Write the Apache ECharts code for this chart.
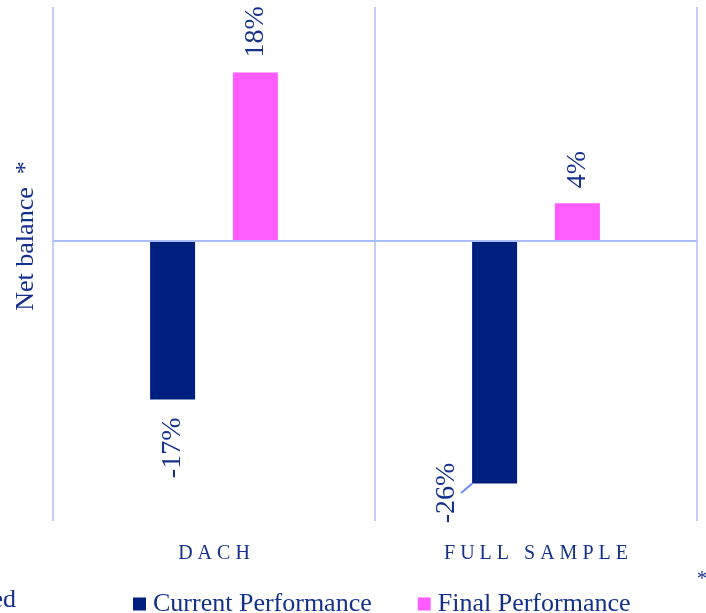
<!DOCTYPE html>
<html lang="en">
<head>
    <meta charset="UTF-8" />
    <title>Net balance</title>
    <script src="https://cdn.jsdelivr.net/npm/echarts@6/dist/echarts.min.js"></script>
    <style>
        html, body { margin: 0; padding: 0; background: #fff; }
    </style>
</head>
<body>
    <div id="main" style="width: 706px; height: 613px"></div>

    <script>
        // data (percent)
        var categories = ["D A C H", "F U L L   S A M P L E"];
        var currentPerf = [-17, -26];
        var finalPerf = [18, 4];
        var seriesNames = ["Current Performance", "Final Performance"];

        var navy = "#00207f";
        var pink = "#ff5cff";
        var textColor = "#13308c";
        var serif = "'Liberation Serif', 'Times New Roman', serif";

        // label on top of positive bars, below negative ones, rotated
        function barLabel(v) {
            if (v >= 0) {
                return { position: "top", distance: 15, align: "left" };
            }
            return { position: "bottom", distance: 18, align: "right" };
        }
        function toItems(arr) {
            return arr.map(function (v) {
                return { value: v, label: barLabel(v) };
            });
        }

        var currentItems = toItems(currentPerf);
        // the -26% label sits left of its bar, with a small leader line
        currentItems[1].label = { position: [-25, 222], align: "right" };
        currentItems[1].labelLine = { show: true };

        var chart = echarts.init(document.getElementById("main"));

        var option = {
            animation: false,
            grid: { left: 53, right: 9, top: 7, bottom: 92 },
            legend: {
                data: seriesNames,
                left: 128,
                top: 586,
                icon: "rect",
                itemWidth: 13,
                itemHeight: 13,
                itemGap: 46,
                textStyle: { fontFamily: serif, fontSize: 26, color: textColor, padding: [0, 0, 0, 2] },
            },
            xAxis: {
                type: "category",
                data: categories,
                axisLine: { show: false },
                axisTick: { show: false },
                axisLabel: { fontFamily: serif, fontSize: 20, color: textColor, margin: 23 },
                splitLine: { show: true, interval: 0, lineStyle: { color: "#c3cff7", width: 2 } },
            },
            yAxis: {
                type: "value",
                min: -30,
                max: 25,
                axisLine: { show: false },
                axisTick: { show: false },
                axisLabel: { show: false },
                splitLine: { show: false },
            },
            graphic: [
                {
                    type: "text",
                    x: 26,
                    y: 236,
                    rotation: Math.PI / 2,
                    style: { text: "Net balance  *", fontFamily: serif, fontSize: 26, fill: textColor, align: "center", verticalAlign: "middle" },
                },
                {
                    type: "text",
                    x: 16,
                    y: 600,
                    style: { text: "ed", fontFamily: serif, fontSize: 26, fill: textColor, align: "right", verticalAlign: "middle" },
                },
                {
                    type: "text",
                    x: 702,
                    y: 580,
                    style: { text: "*", fontFamily: serif, fontSize: 20, fill: textColor, align: "center", verticalAlign: "middle" },
                },
            ],
            series: [
                {
                    name: seriesNames[0],
                    type: "bar",
                    data: currentItems,
                    barWidth: 45,
                    barGap: "84%",
                    itemStyle: { color: navy },
                    label: {
                        show: true,
                        rotate: 90,
                        verticalAlign: "middle",
                        fontFamily: serif,
                        fontSize: 28,
                        color: textColor,
                        formatter: "{c}%",
                    },
                    labelLine: { show: false, lineStyle: { color: "#6f8fff", width: 2 } },
                    markLine: {
                        silent: true,
                        symbol: "none",
                        label: { show: false },
                        lineStyle: { color: "#a9bcfb", width: 2, type: "solid" },
                        data: [{ yAxis: 0 }],
                    },
                },
                {
                    name: seriesNames[1],
                    type: "bar",
                    data: toItems(finalPerf),
                    barWidth: 45,
                    itemStyle: { color: pink },
                    label: {
                        show: true,
                        rotate: 90,
                        verticalAlign: "middle",
                        fontFamily: serif,
                        fontSize: 28,
                        color: textColor,
                        formatter: "{c}%",
                    },
                },
            ],
        };
        chart.setOption(option);
    </script>
</body>
</html>
